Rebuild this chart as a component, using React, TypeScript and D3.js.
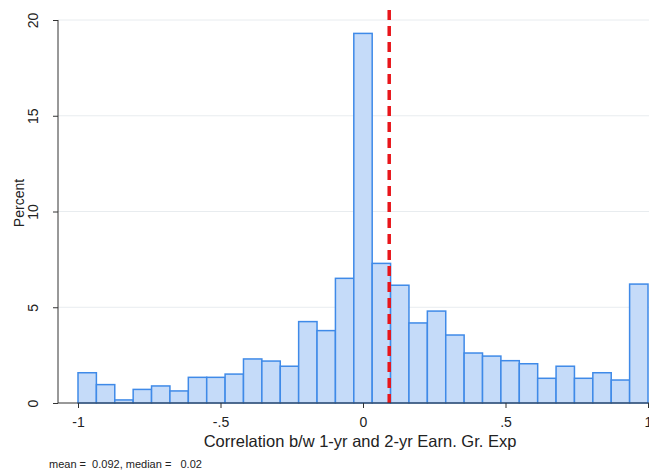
import * as d3 from 'd3'
import { useEffect, useRef } from 'react'

// 31 equal bins from -1 to 1 (percent of observations)
const binStart = -1
const binEnd = 1
const percents = [
  1.58, 0.96, 0.16, 0.71, 0.89, 0.63, 1.34, 1.34, 1.51, 2.3, 2.19, 1.92, 4.25,
  3.78, 6.51, 19.3, 7.29, 6.15, 4.18, 4.8, 3.55, 2.61, 2.45, 2.21, 2.05, 1.29,
  1.92, 1.29, 1.58, 1.2, 6.21,
]
const meanValue = 0.092
const xTicks = [-1, -0.5, 0, 0.5, 1]
const xTickLabels = ['-1', '-.5', '0', '.5', '1']
const yTicks = [0, 5, 10, 15, 20]
const note = 'mean =  0.092, median =   0.02'

export default function App() {
  const svgRef = useRef<SVGSVGElement>(null)

  useEffect(() => {
    if (!svgRef.current) return
    d3.select(svgRef.current).selectAll('*').remove()

    const width = 649
    const height = 471
    const svg = d3.select(svgRef.current).attr('width', width).attr('height', height)
    const font = 'Liberation Sans, Arial, Helvetica, sans-serif'

    const x = d3.scaleLinear().domain([binStart, binEnd]).range([78, 648])
    const y = d3.scaleLinear().domain([0, 20]).range([403, 20])
    const binWidth = (binEnd - binStart) / percents.length

    // Gridlines
    svg
      .append('g')
      .selectAll('line')
      .data(yTicks.filter(t => t > 0))
      .enter()
      .append('line')
      .attr('x1', 58)
      .attr('x2', width)
      .attr('y1', d => y(d))
      .attr('y2', d => y(d))
      .attr('stroke', '#e8ecef')
      .attr('stroke-width', 1)

    // Bars
    svg
      .append('g')
      .selectAll('rect')
      .data(percents)
      .enter()
      .append('rect')
      .attr('x', (d, i) => x(binStart + i * binWidth))
      .attr('y', d => y(d))
      .attr('width', x(binStart + binWidth) - x(binStart))
      .attr('height', d => y(0) - y(d))
      .attr('fill', '#c5dbf9')
      .attr('stroke', '#3f8ae8')
      .attr('stroke-width', 1.5)

    // Mean line
    svg
      .append('line')
      .attr('x1', x(meanValue))
      .attr('x2', x(meanValue))
      .attr('y1', 10)
      .attr('y2', y(0))
      .attr('stroke', '#e8161b')
      .attr('stroke-width', 3.5)
      .attr('stroke-dasharray', '10,6')

    // Y axis
    const yAxis = svg
      .append('g')
      .attr('transform', 'translate(58,0)')
      .call(d3.axisLeft(y).tickValues(yTicks).tickSize(5).tickFormat(d3.format('d')))
    yAxis.select('.domain').attr('stroke', '#333').attr('d', `M0,${y(20)}V${y(0)}`)
    yAxis.selectAll('.tick line').attr('stroke', '#333')
    yAxis
      .selectAll('.tick text')
      .attr('x', 0)
      .attr('dy', 0)
      .attr('transform', 'translate(-20,0) rotate(-90)')
      .attr('text-anchor', 'middle')
      .attr('fill', '#222')
      .style('font-family', font)
      .style('font-size', '14px')

    // X axis
    const xAxis = svg
      .append('g')
      .attr('transform', `translate(0,${y(0)})`)
      .call(
        d3
          .axisBottom(x)
          .tickValues(xTicks)
          .tickSize(5)
          .tickFormat((d, i) => xTickLabels[i])
      )
    xAxis.select('.domain').attr('stroke', '#333').attr('d', `M58,0H${width}`)
    xAxis.selectAll('.tick line').attr('stroke', '#333')
    xAxis
      .selectAll('.tick text')
      .attr('y', 14)
      .attr('fill', '#222')
      .style('font-family', font)
      .style('font-size', '14px')

    // Axis titles
    svg
      .append('text')
      .attr('transform', 'translate(24,203) rotate(-90)')
      .attr('text-anchor', 'middle')
      .attr('fill', '#222')
      .style('font-family', font)
      .style('font-size', '14px')
      .text('Percent')

    svg
      .append('text')
      .attr('x', 360)
      .attr('y', 447)
      .attr('text-anchor', 'middle')
      .attr('fill', '#222')
      .style('font-family', font)
      .style('font-size', '16.5px')
      .text('Correlation b/w 1-yr and 2-yr Earn. Gr. Exp')

    svg
      .append('text')
      .attr('x', 49)
      .attr('y', 468)
      .attr('fill', '#222')
      .style('font-family', font)
      .style('font-size', '11px')
      .style('white-space', 'pre')
      .text(note)
  }, [])

  return (
    <svg
      ref={svgRef}
      style={{ position: 'absolute', left: 0, top: 0, background: '#fff' }}
    ></svg>
  )
}
